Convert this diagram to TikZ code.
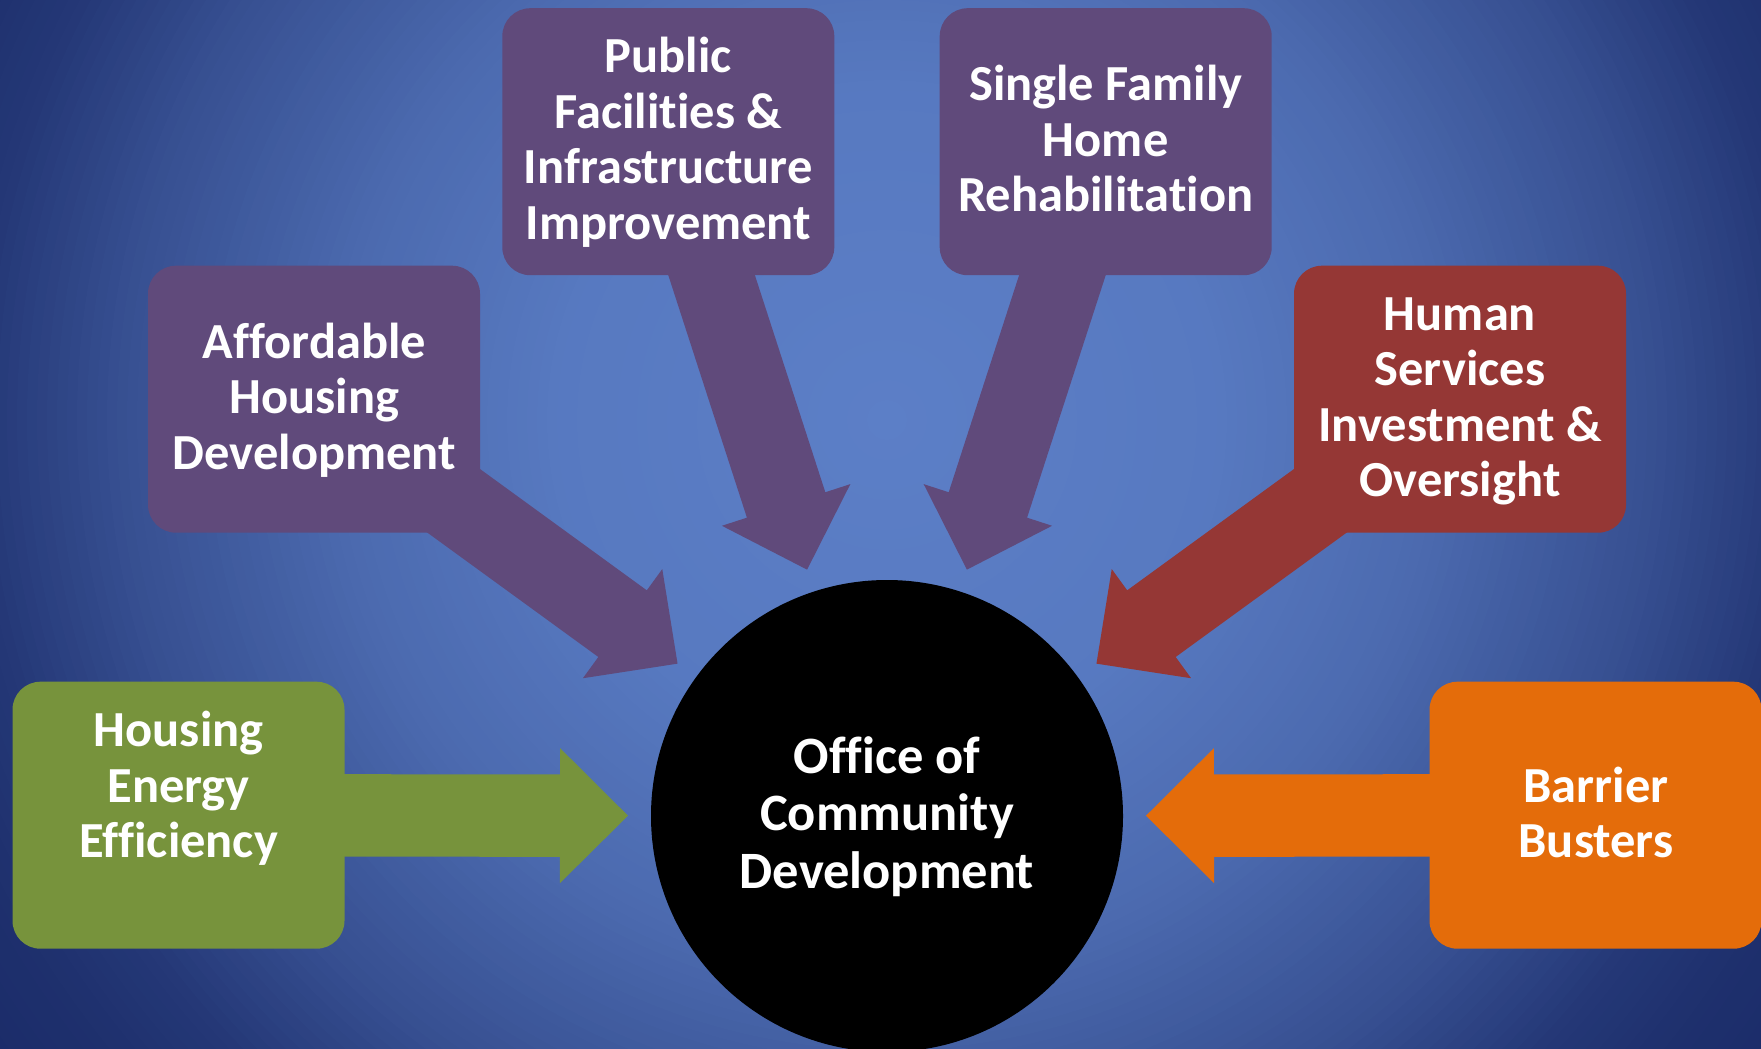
\documentclass[tikz,border=0pt]{standalone}
\usepackage{fontspec}
\newfontfamily\carlito{Carlito}[Ligatures={NoCommon}]
\usetikzlibrary{calc}
\definecolor{purp}{RGB}{96,74,123}
\definecolor{redc}{RGB}{149,55,53}
\definecolor{greenc}{RGB}{119,147,60}
\definecolor{orangec}{RGB}{228,108,10}
\definecolor{lightc}{RGB}{92,127,199}
\definecolor{darkc}{RGB}{27,44,105}
\newcommand{\blockarrow}[2]{%
  \coordinate (T-#1) at ($(office.center)!259pt!(#1.center)$);
  \coordinate (H-#1) at ($(T-#1)!68pt!(#1.center)$);
  \fill[#2] ($(#1.center)!41.2pt!90:(T-#1)$) -- ($(H-#1)!41.2pt!90:(T-#1)$)
    -- ($(H-#1)!67.5pt!90:(T-#1)$) -- (T-#1) -- ($(H-#1)!67.5pt!-90:(T-#1)$)
    -- ($(H-#1)!41.2pt!-90:(T-#1)$) -- ($(#1.center)!41.2pt!-90:(T-#1)$) -- cycle;}
\begin{document}
\begin{tikzpicture}[x=1pt,y=-1pt,
  box/.style={rounded corners=28pt, minimum width=332pt, minimum height=267pt, inner sep=0pt},
  lbl/.style={text=white, font=\carlito\bfseries\fontsize{50.5}{55.5}\selectfont, align=center, anchor=base, inner sep=0pt},
  clbl/.style={text=white, font=\carlito\bfseries\fontsize{52.5}{57.3}\selectfont, align=center, anchor=base, inner sep=0pt}]
\useasboundingbox (0,0) rectangle (1761,1049);
\begin{scope}
  \clip (0,0) rectangle (1761,1049);
  \foreach \i in {0,...,110} {
    \pgfmathsetmacro\r{1100-10*\i}
    \pgfmathsetmacro\p{100*(\r<330 ? 0.07*\r/330 : (\r<550 ? 0.07+0.18*(\r-330)/220 : (\r<770 ? 0.25+0.32*(\r-550)/220 : (\r<915 ? 0.57+0.29*(\r-770)/145 : (\r<1006 ? 0.86+0.09*(\r-915)/91 : 0.95+0.05*(\r-1006)/94)))))}
    \fill[darkc!\p!lightc] (887,420) circle[radius=\r pt];
  }
\end{scope}
\node[circle, fill=black, minimum size=472pt, inner sep=0pt] (office) at (887,816) {};
\node[box, fill=greenc] (hee) at (178.5,815.2) {};
\node[box, fill=purp] (ahd) at (314,399.2) {};
\node[box, fill=purp] (pfi) at (668.3,141.7) {};
\node[box, fill=purp] (sfh) at (1105.7,141.7) {};
\node[box, fill=redc] (hsi) at (1460,399.2) {};
\node[box, fill=orangec] (bb) at (1595.5,815.2) {};
\blockarrow{hee}{greenc}
\blockarrow{ahd}{purp}
\blockarrow{pfi}{purp}
\blockarrow{sfh}{purp}
\blockarrow{hsi}{redc}
\blockarrow{bb}{orangec}
\node[lbl] (t-hee) at (178.6,857.5) {Housing\\Energy\\Efficiency};
\node[lbl] (t-ahd) at (314.5,469) {Affordable\\Housing\\Development};
\node[lbl] (t-pfi) at (668.3,239) {Public\\Facilities \&\\Infrastructure\\Improvement};
\node[lbl] (t-sfh) at (1105.7,211.5) {Single Family\\Home\\Rehabilitation};
\node[lbl] (t-hsi) at (1460,496.8) {Human\\Services\\Investment \&\\Oversight};
\node[lbl] (t-bb) at (1596,857.5) {Barrier\\Busters};
\node[clbl] (t-office) at (887,888) {Office of\\Community\\Development};
\end{tikzpicture}
\end{document}
